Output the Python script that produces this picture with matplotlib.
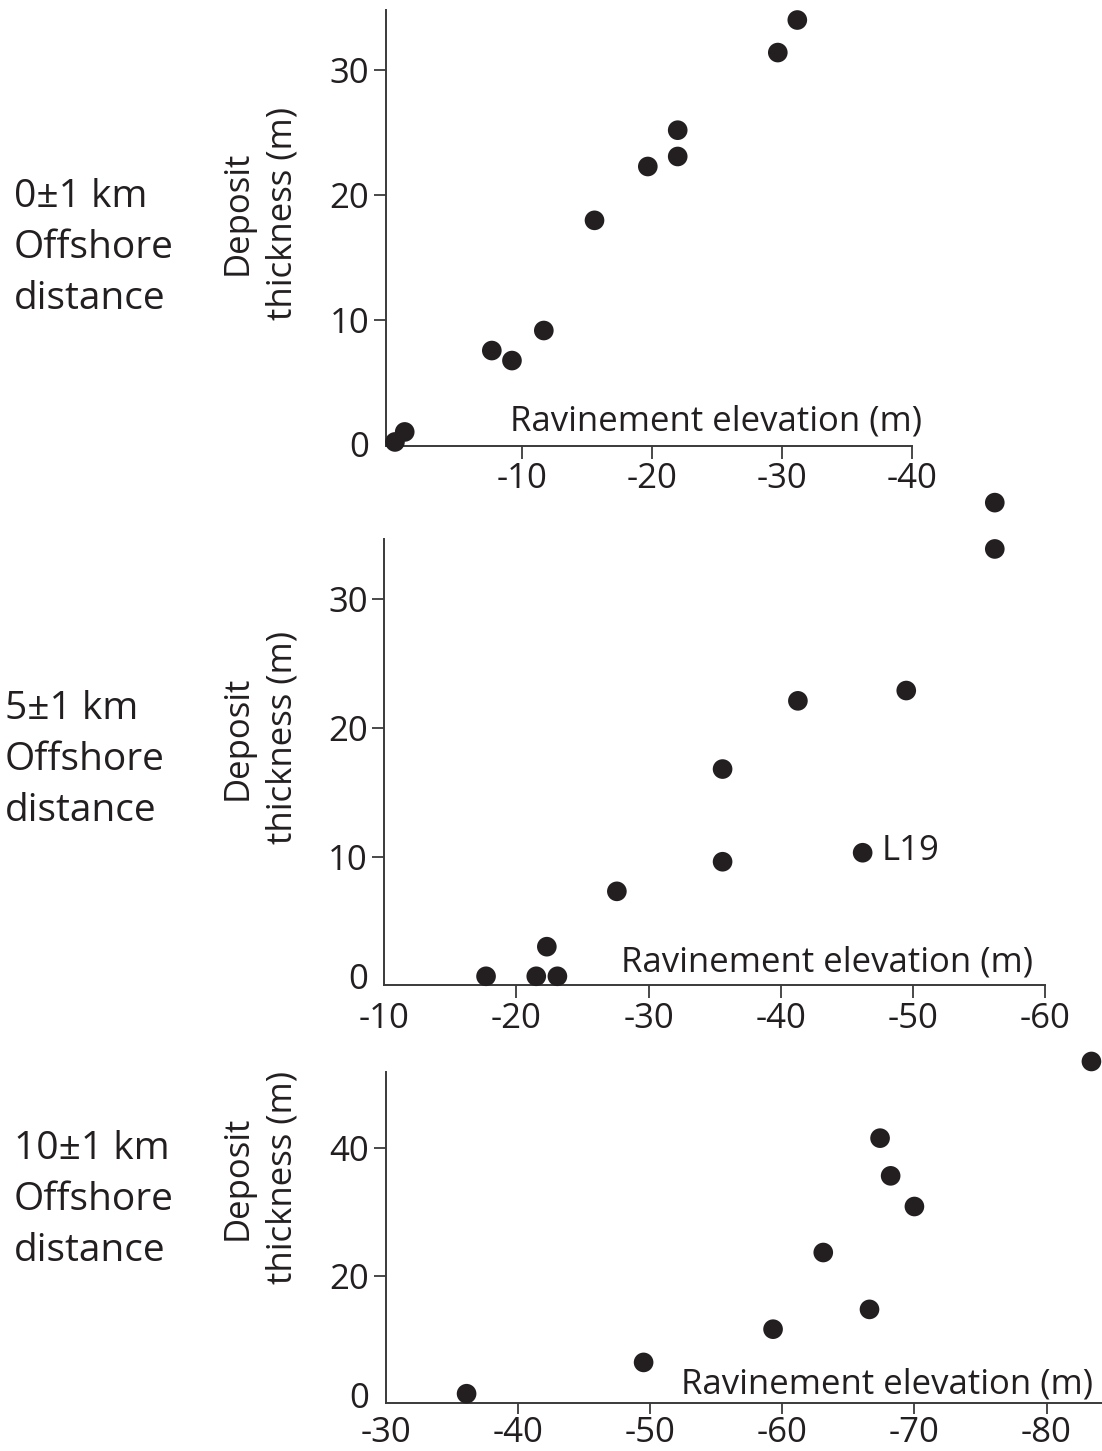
import matplotlib
matplotlib.use('Agg')
import matplotlib.pyplot as plt
import matplotlib.transforms as mtransforms

plt.rcParams['font.family'] = ['Open Sans', 'DejaVu Sans']

# 0 +/- 1 km offshore
elev_0km = [-0.25, -1.0, -7.7, -9.25, -11.7, -15.6, -19.7, -22.0, -22.0, -29.7, -31.2]
thick_0km = [0.3, 1.1, 7.6, 6.8, 9.2, 18.0, 22.3, 23.1, 25.2, 31.4, 34.0]

# 5 +/- 1 km offshore (index 9 is L19)
elev_5km = [-17.7, -21.5, -23.1, -22.3, -27.6, -35.6, -35.6, -41.3, -49.5, -46.2, -56.2, -56.2]
thick_5km = [0.7, 0.7, 0.7, 3.0, 7.3, 9.6, 16.8, 22.1, 22.9, 10.3, 33.9, 37.5]

# 10 +/- 1 km offshore
elev_10km = [-36.1, -49.5, -59.3, -66.6, -63.1, -70.0, -68.2, -67.4, -83.4]
thick_10km = [1.5, 6.4, 11.6, 14.7, 23.6, 30.8, 35.6, 41.5, 53.5]

panel_titles = ['0\u00b11 km\nOffshore\ndistance', '5\u00b11 km\nOffshore\ndistance', '10\u00b11 km\nOffshore\ndistance']
xticks_list = [[-10, -20, -30, -40], [-10, -20, -30, -40, -50, -60], [-30, -40, -50, -60, -70, -80]]
yticks_list = [[0, 10, 20, 30], [0, 10, 20, 30], [0, 20, 40]]

ink = '#231f20'
fs = 25

fig = plt.figure(figsize=(11.02, 14.51), dpi=100)
W, H = 1102.0, 1451.0

# axes boxes in pixels: left, right, top, bottom
boxes = [(386, 911.7, 10, 445.7), (384.3, 1045, 539.3, 985.3), (386, 1102, 1071.7, 1403.3)]
xlims = [(0.44, -40), (-10, -60), (-30, -84.2)]
ylims = [(0, 34.8), (0, 34.65), (0, 51.9)]
label_pos = [(1.02, 0.036), (0.982, 0.030), (0.988, 0.030)]
ylab_y = [213, 738, 1178]
title_pos = [(14, 248), (5, 760), (14, 1200)]
zero_lift = [0.02, 0.09, 0.08]  # the "0" label sits a bit above the corner
data = [(elev_0km, thick_0km), (elev_5km, thick_5km), (elev_10km, thick_10km)]

for i in range(3):
    l, r, t, b = boxes[i]
    ax = fig.add_axes([l / W, 1 - b / H, (r - l) / W, (b - t) / H])
    xs, ys = data[i]
    ax.scatter(xs, ys, s=200, color=ink, edgecolors='none', clip_on=False, zorder=3)
    ax.set_xlim(*xlims[i])
    ax.set_ylim(*ylims[i])
    for s in ['top', 'right']:
        ax.spines[s].set_visible(False)
    for s in ['left', 'bottom']:
        ax.spines[s].set_linewidth(1.4)
        ax.spines[s].set_color('#3a3a3a')
    ax.set_xticks(xticks_list[i])
    ax.set_xticklabels([str(v) for v in xticks_list[i]])
    ax.set_yticks(yticks_list[i])
    ax.set_yticklabels([str(v) for v in yticks_list[i]])
    ax.tick_params(axis='both', direction='out', length=9, width=1.3, color='#3a3a3a',
                   labelsize=fs, labelcolor=ink, pad=3)
    if i == 2:
        # bottom panel sits at the edge of the figure
        ax.tick_params(axis='x', length=8, pad=1)
    t0 = ax.yaxis.get_major_ticks()[0]
    t0.tick1line.set_visible(False)
    lab = t0.label1
    lab.set_transform(lab.get_transform() + mtransforms.ScaledTranslation(0, zero_lift[i], fig.dpi_scale_trans))
    if i > 0:
        ax.xaxis.get_major_ticks()[0].tick1line.set_visible(False)
    ax.text(label_pos[i][0], label_pos[i][1], 'Ravinement elevation (m)', transform=ax.transAxes,
            ha='right', va='baseline', fontsize=fs, color=ink)
    fig.text(260 / W, 1 - ylab_y[i] / H, 'Deposit\nthickness (m)', rotation=90, ha='center', va='center',
             multialignment='center', fontsize=fs, color=ink, linespacing=1.45)
    fig.text(title_pos[i][0] / W, 1 - title_pos[i][1] / H, panel_titles[i], ha='left', va='center',
             fontsize=28, color=ink, linespacing=1.45)
    if i == 1:
        ax.annotate('L19', xy=(elev_5km[9], thick_5km[9]), xytext=(14, 1), textcoords='offset points',
                    ha='left', va='center', fontsize=fs, color=ink)

fig.savefig('out.png', dpi=100)
